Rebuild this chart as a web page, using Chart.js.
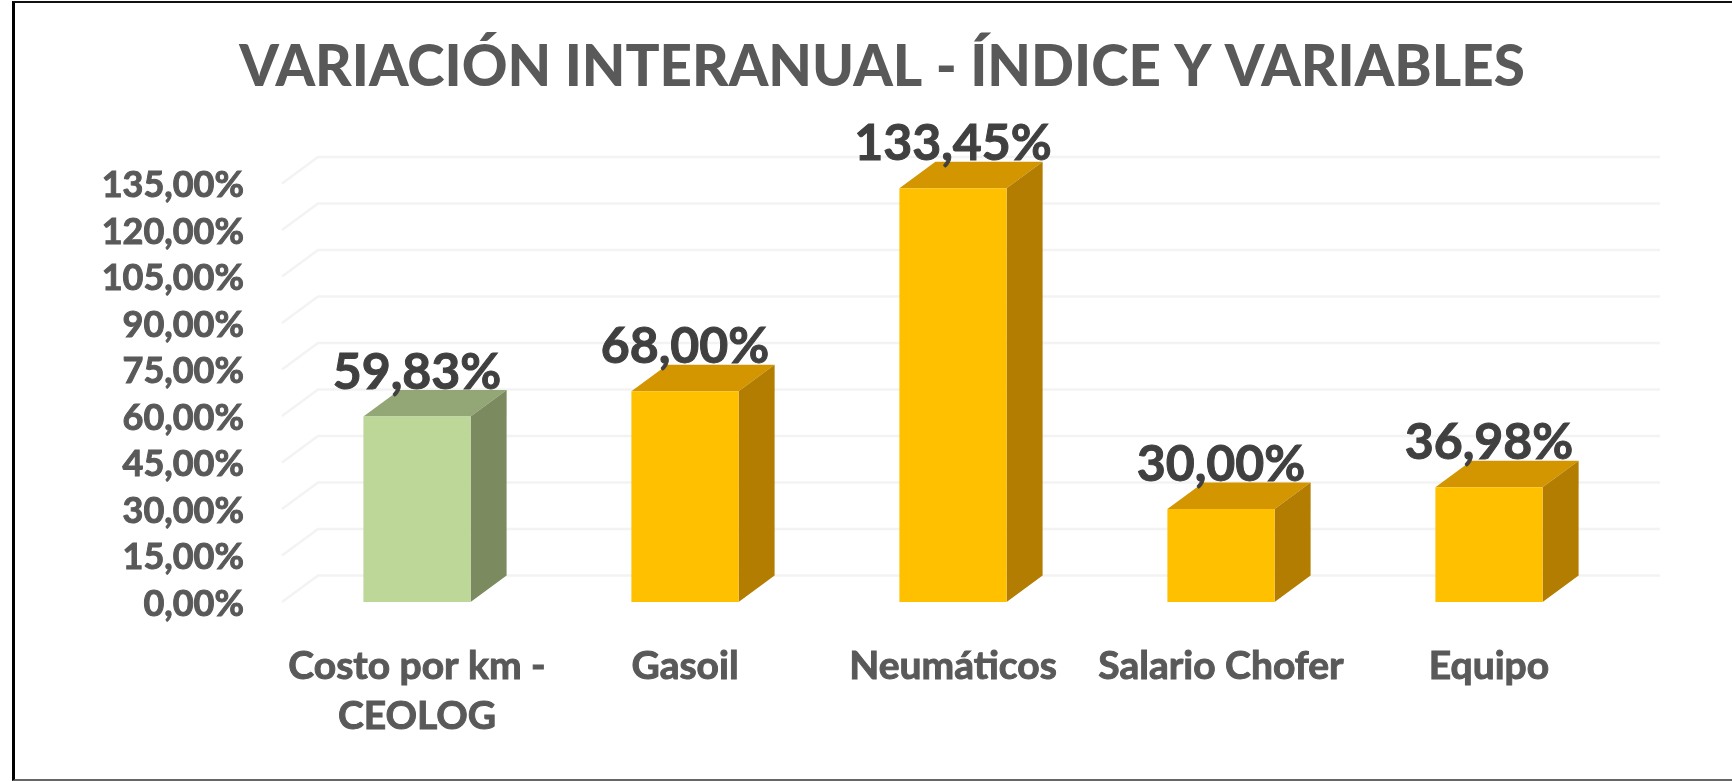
<!DOCTYPE html>
<html>
<head>
<meta charset="utf-8">
<style>
  html, body { margin: 0; padding: 0; background: #fff; overflow: hidden; }
  #frame { position: absolute; left: 12px; top: 1px; width: 1720px; height: 780px; box-sizing: border-box;
           border-left: 3px solid #000; border-top: 2px solid #111; border-bottom: 2px solid #666; }
  canvas { position: absolute; left: 0; top: 0; }
</style>
<script src="https://cdn.jsdelivr.net/npm/chart.js@4"></script>
</head>
<body>
<div id="frame"></div>
<canvas id="chart" width="1732" height="781"></canvas>
<script>
const titleText = 'VARIACIÓN INTERANUAL - ÍNDICE Y VARIABLES';
const categories = [['Costo por km -', 'CEOLOG'], 'Gasoil', 'Neumáticos', 'Salario Chofer', 'Equipo'];
const values = [59.83, 68.00, 133.45, 30.00, 36.98];
const frontColors = ['#BDD799', '#FFC000', '#FFC000', '#FFC000', '#FFC000'];
const topColors = ['#92A676', '#D39500', '#D39500', '#D39500', '#D39500'];
const sideColors = ['#7B8B5F', '#B27D00', '#B27D00', '#B27D00', '#B27D00'];

const fontName = 'Lato, "Open Sans", sans-serif';
const fmt = v => v.toFixed(2).replace('.', ',') + '%';

// depth of the fake 3D
const DX = 36, DY = 26.5;

const wallsPlugin = {
    id: 'walls',
    beforeDatasetsDraw(chart) {
        const { ctx, scales } = chart;
        const x0 = scales.x.left - 1;
        ctx.save();
        ctx.strokeStyle = '#F3F3F3';
        ctx.lineWidth = 2.5;
        scales.y.ticks.forEach(t => {
            const y = scales.y.getPixelForValue(t.value);
            ctx.beginPath();
            ctx.moveTo(x0, y);
            ctx.lineTo(x0 + DX, y - DY);
            ctx.lineTo(scales.x.right + DX + 1, y - DY);
            ctx.stroke();
        });
        // top and side faces of the bars
        chart.getDatasetMeta(0).data.forEach((bar, i) => {
            const l = bar.x - bar.width / 2, r = bar.x + bar.width / 2;
            ctx.fillStyle = topColors[i];
            ctx.beginPath();
            ctx.moveTo(l, bar.y);
            ctx.lineTo(l + DX, bar.y - DY);
            ctx.lineTo(r + DX, bar.y - DY);
            ctx.lineTo(r, bar.y);
            ctx.closePath();
            ctx.fill();
            ctx.fillStyle = sideColors[i];
            ctx.beginPath();
            ctx.moveTo(r, bar.y);
            ctx.lineTo(r + DX, bar.y - DY);
            ctx.lineTo(r + DX, bar.base - DY);
            ctx.lineTo(r, bar.base);
            ctx.closePath();
            ctx.fill();
        });
        ctx.restore();
    }
};

const valueLabelPlugin = {
    id: 'valueLabels',
    afterDatasetsDraw(chart) {
        const { ctx } = chart;
        ctx.save();
        ctx.font = 'bold 50px ' + fontName;
        ctx.fillStyle = '#404040';
        ctx.strokeStyle = '#404040';
        ctx.lineWidth = 1;
        ctx.textAlign = 'center';
        ctx.textBaseline = 'alphabetic';
        chart.getDatasetMeta(0).data.forEach((bar, i) => {
            ctx.fillText(fmt(values[i]), bar.x, bar.y - 28);
            ctx.strokeText(fmt(values[i]), bar.x, bar.y - 28);
        });
        ctx.restore();
    }
};

new Chart(document.getElementById('chart').getContext('2d'), {
    type: 'bar',
    data: {
        labels: categories,
        datasets: [{
            data: values,
            backgroundColor: frontColors,
            borderWidth: 0,
            barPercentage: 0.4,
            categoryPercentage: 1
        }]
    },
    options: {
        responsive: false,
        animation: false,
        // left padding puts the title off centre like the original
        layout: { padding: { left: 32, right: 0, top: 0, bottom: 0 } },
        plugins: {
            legend: { display: false },
            tooltip: { enabled: false },
            title: {
                display: true,
                text: titleText,
                color: '#595959',
                font: { family: fontName, size: 56.5, weight: 900, lineHeight: 1.2 },
                padding: { top: 34, bottom: 81.7 }
            }
        },
        scales: {
            x: {
                afterFit: s => { s.height = 179; },
                grid: { display: false },
                border: { display: false },
                ticks: {
                    color: '#595959',
                    padding: 32,
                    maxRotation: 0,
                    autoSkip: false,
                    textStrokeColor: '#595959',
                    textStrokeWidth: 1,
                    font: { family: fontName, size: 39, weight: 'bold', lineHeight: 1.27 }
                }
            },
            y: {
                min: 0,
                max: 135,
                afterFit: s => { s.width = 251; },
                grid: { display: false },
                border: { display: false },
                ticks: {
                    stepSize: 15,
                    color: '#595959',
                    padding: 31,
                    labelOffset: 2,
                    textStrokeColor: '#595959',
                    textStrokeWidth: 1,
                    callback: v => fmt(v),
                    font: { family: fontName, size: 36, weight: 'bold' }
                }
            },
            // empty axis, only keeps the plot clear of the right side
            spacer: {
                type: 'linear',
                axis: 'y',
                position: 'right',
                afterFit: s => { s.width = 109; },
                grid: { display: false },
                border: { display: false },
                ticks: { display: false }
            }
        }
    },
    plugins: [wallsPlugin, valueLabelPlugin]
});
</script>
</body>
</html>
